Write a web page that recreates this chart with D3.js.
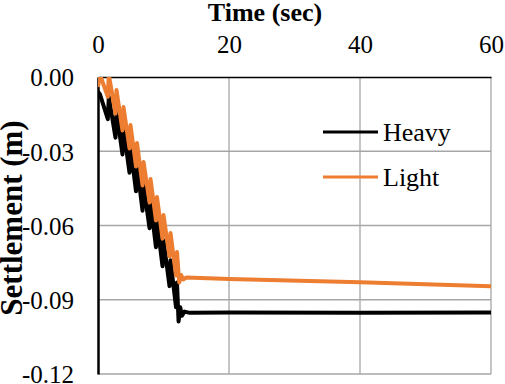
<!DOCTYPE html>
<html>
<head>
<meta charset="utf-8">
<script src="https://cdn.jsdelivr.net/npm/d3@7"></script>
<style>
  body { margin: 0; background: #fff; }
  text { font-family: "Liberation Serif", "Times New Roman", serif; }
</style>
</head>
<body>
<div id="chart"></div>
<script>
// values
var seriesNames = ["Heavy", "Light"];
var xTicks = [0, 20, 40, 60];
var yTicks = [0, -0.03, -0.06, -0.09, -0.12];

var timeHeavy = [0, 0.3, 1.5, 1.65, 2.67, 2.82, 3.74, 3.89, 4.81, 4.96, 5.8, 5.95,
  6.8, 6.95, 7.87, 8.02, 8.85, 9.0, 9.85, 10.0, 10.92, 11.07, 11.91, 12.06,
  12.3, 12.55, 12.8, 13.2, 14, 20, 40, 60];
var settleHeavy = [-0.006, -0.007, -0.017, -0.008, -0.0245, -0.0138, -0.0313, -0.0207,
  -0.0387, -0.0282, -0.0462, -0.0357, -0.054, -0.0435, -0.0611, -0.0506, -0.0688,
  -0.0583, -0.0765, -0.066, -0.0845, -0.074, -0.093, -0.083, -0.0988, -0.093,
  -0.0965, -0.0948, -0.0953, -0.0952, -0.0953, -0.0952];

var timeLight = [0, 0.3, 1.5, 1.65, 2.67, 2.82, 3.74, 3.89, 4.81, 4.96, 5.8, 5.95,
  6.8, 6.95, 7.87, 8.02, 8.85, 9.0, 9.85, 10.0, 10.92, 11.07, 11.91, 12.06,
  12.4, 12.7, 13.0, 13.5, 20, 40, 60];
var settleLight = [-0.004, 0.001, -0.008, 0.001, -0.0148, -0.0053, -0.0216, -0.0121,
  -0.0289, -0.0194, -0.0362, -0.0267, -0.0438, -0.0343, -0.0507, -0.0412, -0.058,
  -0.0485, -0.0653, -0.0558, -0.0725, -0.063, -0.0802, -0.0707, -0.083, -0.08,
  -0.0818, -0.081, -0.0816, -0.0829, -0.0845];

var colors = ["#000000", "#ED7D31"];

var width = 505, height = 384;
var margin = {top: 77, right: 14, bottom: 10, left: 98};

var svg = d3.select("#chart").append("svg")
    .attr("width", width)
    .attr("height", height);

var x = d3.scaleLinear().domain([0, 60]).range([margin.left, width - margin.right]);
var y = d3.scaleLinear().domain([0, -0.12]).range([margin.top, height - margin.bottom]);

// grid
svg.append("g")
  .selectAll("line")
  .data(yTicks.slice(1))
  .enter().append("line")
    .attr("x1", x(0)).attr("x2", x(60))
    .attr("y1", function(d) { return y(d); })
    .attr("y2", function(d) { return y(d); })
    .style("stroke", "#a6a6a6").style("stroke-width", 1.3);
svg.append("g")
  .selectAll("line")
  .data(xTicks.slice(1))
  .enter().append("line")
    .attr("y1", y(0)).attr("y2", y(-0.12))
    .attr("x1", function(d) { return x(d); })
    .attr("x2", function(d) { return x(d); })
    .style("stroke", "#a6a6a6").style("stroke-width", 1.3);

// axes
var xAxis = svg.append("g")
    .attr("transform", "translate(0," + y(0) + ")")
    .call(d3.axisTop(x).tickValues(xTicks).tickSize(0).tickPadding(24));
var yAxis = svg.append("g")
    .attr("transform", "translate(" + x(0) + ",0)")
    .call(d3.axisLeft(y).tickValues(yTicks).tickSize(0).tickPadding(24)
      .tickFormat(function(d) { return d.toFixed(2); }));
xAxis.selectAll("text").style("font-size", "25px").style("fill", "#000");
yAxis.selectAll("text").style("font-size", "25px").style("fill", "#000")
  .attr("dy", "0.35em");
xAxis.select(".domain").style("stroke", "#000").style("stroke-width", 1.5);
yAxis.select(".domain").style("stroke", "#000").style("stroke-width", 2.5);

// clip
svg.append("clipPath").attr("id", "clip")
  .append("rect")
    .attr("x", x(0)).attr("y", y(0))
    .attr("width", x(60) - x(0)).attr("height", y(-0.12) - y(0));

var line = d3.line()
    .x(function(d) { return x(d[0]); })
    .y(function(d) { return y(d[1]); });

var series = [d3.zip(timeHeavy, settleHeavy), d3.zip(timeLight, settleLight)];

svg.append("g").attr("clip-path", "url(#clip)")
  .selectAll("path")
  .data(series)
  .enter().append("path")
    .attr("d", line)
    .style("fill", "none")
    .style("stroke", function(d, i) { return colors[i]; })
    .style("stroke-width", 4)
    .style("stroke-linejoin", "round");

// legend
var legend = svg.append("g")
  .selectAll("g")
  .data(seriesNames)
  .enter().append("g")
    .attr("transform", function(d, i) { return "translate(323," + (132 + i * 45) + ")"; });
legend.append("line")
    .attr("x1", 0).attr("x2", 55)
    .style("stroke", function(d, i) { return colors[i]; })
    .style("stroke-width", 3);
legend.append("text")
    .attr("x", 60).attr("dy", "0.35em")
    .style("font-size", "26px")
    .text(function(d) { return d; });

// titles
svg.append("text")
    .attr("x", 265).attr("y", 21)
    .attr("text-anchor", "middle")
    .style("font-size", "26px").style("font-weight", "bold")
    .text("Time (sec)");
svg.append("text")
    .attr("transform", "translate(22,218) rotate(-90)")
    .attr("text-anchor", "middle")
    .style("font-size", "31px").style("font-weight", "bold")
    .text("Settlement (m)");
</script>
</body>
</html>
